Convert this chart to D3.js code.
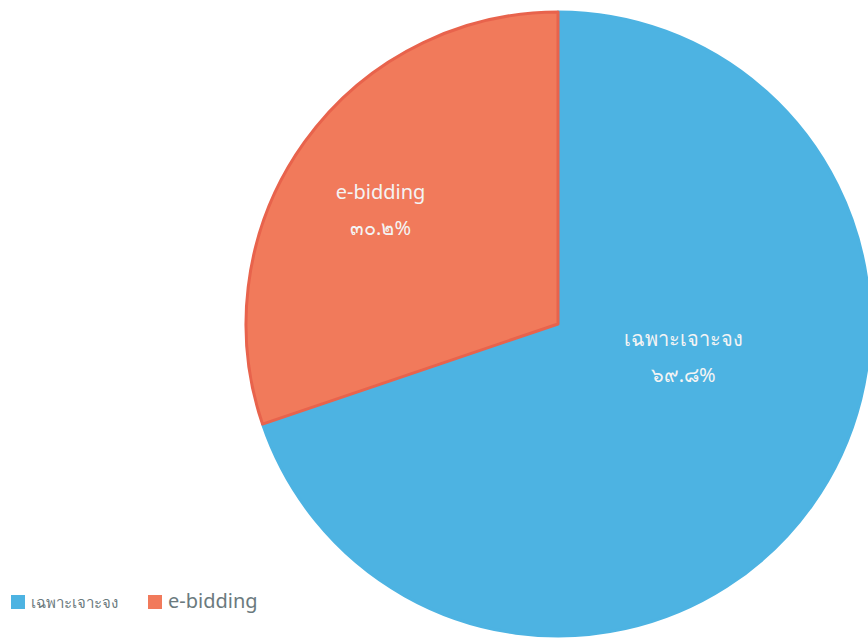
<!DOCTYPE html>
<html>
<head>
<meta charset="utf-8">
<script src="https://cdn.jsdelivr.net/npm/d3@7"></script>
<style>
  body { margin: 0; background: #fff; }
  svg { display: block; font-family: "Noto Sans", "Open Sans", sans-serif; }
</style>
</head>
<body>
<div id="chart"></div>
<script>
const categories = ["เฉพาะเจาะจง", "e-bidding"];
const values = [69.8, 30.2];
const valueLabels = ["๖๙.๘%", "๓๐.๒%"];
const colors = ["#4DB3E2", "#F17A5B"];
const strokes = ["#4DB3E2", "#E8634C"];

main();

function main() {
  const width = 868;
  const height = 638;
  const cx = 558, cy = 324, r = 312;

  const svg = d3.select("#chart")
    .append("svg")
    .attr("width", width)
    .attr("height", height);

  const pie = d3.pie().sort(null).value(d => d.value);
  const data = categories.map((c, i) => ({ name: c, value: values[i], label: valueLabels[i], i }));
  const arcs = pie(data);

  const arc = d3.arc().innerRadius(0).outerRadius(r);

  const g = svg.append("g").attr("transform", `translate(${cx},${cy})`);

  g.selectAll("path")
    .data(arcs)
    .join("path")
    .attr("d", arc)
    .attr("fill", d => colors[d.data.i])
    .attr("stroke", d => strokes[d.data.i])
    .attr("stroke-width", 3)
    .attr("stroke-linejoin", "round");

  // "best fit" label spots, roughly as the office chart placed them
  function labelPos(d) {
    if (d.data.i === 1) {
      const la = d3.arc().innerRadius(r * 0.7).outerRadius(r * 0.7);
      return la.centroid(d);
    }
    const a = d.startAngle + (d.endAngle - d.startAngle) * 0.394;
    const rr = r * 0.406;
    return [Math.sin(a) * rr, -Math.cos(a) * rr];
  }

  const lbl = g.selectAll("g.lbl")
    .data(arcs)
    .join("g")
    .attr("class", "lbl")
    .attr("transform", d => {
      const [x, y] = labelPos(d);
      return `translate(${x},${y})`;
    });

  lbl.append("text")
    .attr("text-anchor", "middle")
    .attr("y", 2)
    .attr("fill", "#f4f4f4")
    .attr("font-size", 20)
    .text(d => d.data.name);

  lbl.append("text")
    .attr("text-anchor", "middle")
    .attr("y", 38)
    .attr("fill", "#f4f4f4")
    .attr("font-size", 20)
    .text(d => d.data.label);

  // legend
  const legend = svg.append("g").attr("transform", "translate(11,595)");
  const items = legend.selectAll("g")
    .data(categories)
    .join("g")
    .attr("transform", (d, i) => `translate(${i === 0 ? 0 : 137},0)`);

  items.append("rect")
    .attr("width", 14).attr("height", 14)
    .attr("fill", (d, i) => colors[i]);

  items.append("text")
    .attr("x", 20).attr("y", 13)
    .attr("fill", "#6b7a7e")
    .attr("font-size", (d, i) => i === 0 ? 15 : 20)
    .text(d => d);
}
</script>
</body>
</html>
